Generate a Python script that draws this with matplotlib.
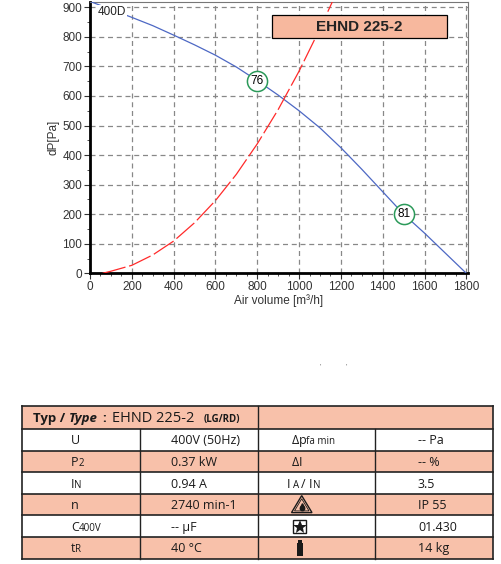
import numpy as np
import matplotlib
matplotlib.use("Agg")
import matplotlib.pyplot as plt
from matplotlib.patches import Rectangle, Polygon
from matplotlib.ticker import MultipleLocator

# fan curve (blue)
airflow_fan = [0, 100, 200, 300, 400, 500, 600, 700, 800, 900, 1000, 1100, 1200, 1300, 1400, 1500, 1600, 1700, 1800]
dp_fan = [920, 893, 866, 838, 806, 773, 738, 698, 652, 603, 550, 492, 425, 352, 276, 200, 136, 68, 0]

# system curve (red dashed)
airflow_sys = [60, 100, 200, 300, 400, 500, 600, 700, 800, 900, 1000, 1100, 1160]
dp_sys = [0, 7, 27, 62, 109, 171, 246, 335, 438, 554, 684, 828, 920]

# operating points with their labels
op_x = [800, 1500]
op_y = [650, 200]
op_labels = ["76", "81"]

title = "EHND 225-2"
curve_label = "400D"

# table content
header_parts = [("Typ /", 9.5, "bold", "normal", 33), ("Type", 9.5, "bold", "italic", 69),
                (":", 9.5, "bold", "normal", 102), ("EHND 225-2", 10.5, "normal", "normal", 112),
                ("(LG/RD)", 7, "bold", "normal", 204)]
# (text, size, gap before in px)
col1 = [[("U", 9, 0)], [("P", 9, 0), ("2", 7, 0)], [("I", 9, 0), ("N", 7, 0)], [("n", 9, 0)],
        [("C", 9, 0), ("400V", 7, 0)], [("t", 9, 0), ("R", 7, 0)]]
col2 = ["400V (50Hz)", "0.37 kW", "0.94 A", "2740 min-1", "-- \u00b5F", "40 \u00b0C"]
col3 = [[("\u0394", 9, 0), ("p", 9, 0), ("fa min", 7, 0)], [("\u0394", 9, 0), ("I", 9, 0)],
        [("I", 9, 0), ("A", 7, 2.5), ("/", 9, 2.5), ("I", 9, 3), ("N", 7, 1)],
        "triangle", "star", "weight"]
col3_x = [292, 292, 287, 0, 0, 0]
col4 = ["-- Pa", "-- %", "3.5", "IP 55", "01.430", "14 kg"]

salmon = "#f8c1aa"
tfont = "Open Sans"

fig = plt.figure(figsize=(5.02, 5.64), dpi=100)
ax = fig.add_axes([90 / 502, 1 - 273.3 / 564, 378 / 502, 271.3 / 564])

ax.plot(airflow_fan, dp_fan, color="#4d68c4", lw=0.9, zorder=3)
ax.plot(airflow_sys, dp_sys, color="#ff2a2a", lw=0.9, dashes=(19, 3), zorder=3)
ax.plot(op_x, op_y, "o", ms=14.5, mfc="white", mec="#2c9a5a", mew=1.1, zorder=4)
for x, y, s in zip(op_x, op_y, op_labels):
    ax.text(x, y, s, ha="center", va="center", fontsize=8.5, family="Liberation Sans", zorder=5)

ax.text(35, 884, curve_label, ha="left", va="center", fontsize=8.5, family="Liberation Sans",
        color="#222222", zorder=5, bbox=dict(fc="white", ec="none", pad=0.6))

ax.add_patch(Rectangle((0.481, 0.867), 0.463, 0.085, transform=ax.transAxes,
                       fc="#f7b89e", ec="black", lw=0.9, zorder=6))
ax.text(0.7125, 0.909, title, transform=ax.transAxes, ha="center", va="center",
        fontsize=11, weight="bold", family="Liberation Sans", color="#222222", zorder=7)

ax.set_xlim(0, 1808)
ax.set_ylim(0, 918)
ax.xaxis.set_major_locator(MultipleLocator(200))
ax.xaxis.set_minor_locator(MultipleLocator(50))
ax.yaxis.set_major_locator(MultipleLocator(100))
ax.yaxis.set_minor_locator(MultipleLocator(50))
ax.grid(True, which="major", color="#888888", ls=(0, (4, 3)), lw=0.9)
ax.tick_params(which="major", length=4, width=0.8, labelsize=8.5, pad=1.5, colors="#333333")
ax.tick_params(which="minor", length=2.5, width=0.6, colors="#333333")
for lab in ax.get_xticklabels() + ax.get_yticklabels():
    lab.set_family("Liberation Sans")
for side in ["left", "bottom"]:
    ax.spines[side].set_linewidth(2)
    ax.spines[side].set_color("black")
for side in ["top", "right"]:
    ax.spines[side].set_linewidth(0.8)
    ax.spines[side].set_color("#777777")
ax.set_xlabel("Air volume [m\u00b3/h]", fontsize=8.5, family="Liberation Sans", labelpad=1, color="#333333")
ax.set_ylabel("dP[Pa]", fontsize=8.5, family="Liberation Sans", labelpad=2, color="#333333")

# table drawn in pixel coordinates
tb = fig.add_axes([0, 0, 1, 1])
tb.set_xlim(0, 502)
tb.set_ylim(564, 0)
tb.axis("off")

# two stray marks between chart and table
tb.text(320, 366, "'", fontsize=4, color="#555555", ha="center", va="center")
tb.text(346.5, 366, "'", fontsize=4, color="#555555", ha="center", va="center")

row_lines = [406, 429.3, 450.6, 472.2, 493.8, 515.4, 537, 558.6]
xl, xm1, xm2, xm3, xr = 22, 140, 258, 375, 493

for i in range(len(row_lines) - 1):
    fc = salmon if i % 2 == 0 else "white"
    tb.add_patch(Rectangle((xl, row_lines[i]), xr - xl, row_lines[i + 1] - row_lines[i], fc=fc, ec="none"))
for y in row_lines:
    tb.plot([xl, xr], [y, y], color="#222222", lw=1.2)
tb.plot([xl, xl], [row_lines[0], row_lines[-1]], color="#222222", lw=1.2)
tb.plot([xr, xr], [row_lines[0], row_lines[-1]], color="#222222", lw=1.2)
tb.plot([xm2, xm2], [row_lines[0], row_lines[-1]], color="#222222", lw=1.0)
for xv in [xm1, xm3]:
    tb.plot([xv, xv], [row_lines[1], row_lines[-1]], color="#222222", lw=1.0)

renderer = fig.canvas.get_renderer()


def rich(x, y, parts):
    # draws pieces of text one after another on a common baseline
    for s, size, gap in parts:
        x += gap
        t = tb.text(x, y, s, ha="left", va="baseline", fontsize=size, family=tfont, color="#1a1a1a")
        bb = t.get_window_extent(renderer)
        x = tb.transData.inverted().transform((bb.x1, bb.y0))[0] - 0.3


def base(i):
    return row_lines[i] + (row_lines[i + 1] - row_lines[i]) / 2 + 4.5


hb = base(0)
for s, size, w, st, x in header_parts:
    tb.text(x, hb, s, ha="left", va="baseline", fontsize=size, weight=w, style=st,
            family=tfont, color="#1a1a1a")

for r in range(6):
    y = base(r + 1)
    yc = (row_lines[r + 1] + row_lines[r + 2]) / 2
    rich(71, y, col1[r])
    tb.text(171, y, col2[r], ha="left", va="baseline", fontsize=9, family=tfont, color="#1a1a1a")
    tb.text(418, y, col4[r], ha="left", va="baseline", fontsize=9, family=tfont, color="#1a1a1a")
    c = col3[r]
    if c == "triangle":
        tb.add_patch(Polygon([[291.5, yc + 8], [312, yc + 8], [301.7, yc - 9]], closed=True,
                             fc="none", ec="#1a1a1a", lw=1.0))
        tb.add_patch(Polygon([[294.5, yc + 6.3], [309, yc + 6.3], [301.7, yc - 5.8]], closed=True,
                             fc="none", ec="#1a1a1a", lw=0.6))
        tb.plot([301.7], [yc + 3], "o", ms=3.2, color="#1a1a1a")
        tb.plot([301.7], [yc + 0.8], "^", ms=2.6, color="#1a1a1a")
    elif c == "star":
        tb.add_patch(Rectangle((293.5, yc - 6.5), 13, 13, fc="white", ec="#1a1a1a", lw=1.0))
        tb.plot([300], [yc + 0.5], marker="*", ms=10, mew=0, color="#1a1a1a")
    elif c == "weight":
        tb.add_patch(Rectangle((296.8, yc - 5), 6.4, 13, fc="#1a1a1a", ec="none"))
        tb.add_patch(Rectangle((298.3, yc - 7.5), 3.4, 3, fc="#1a1a1a", ec="none"))
    else:
        rich(col3_x[r], y, c)

fig.savefig("out.png", dpi=100)
